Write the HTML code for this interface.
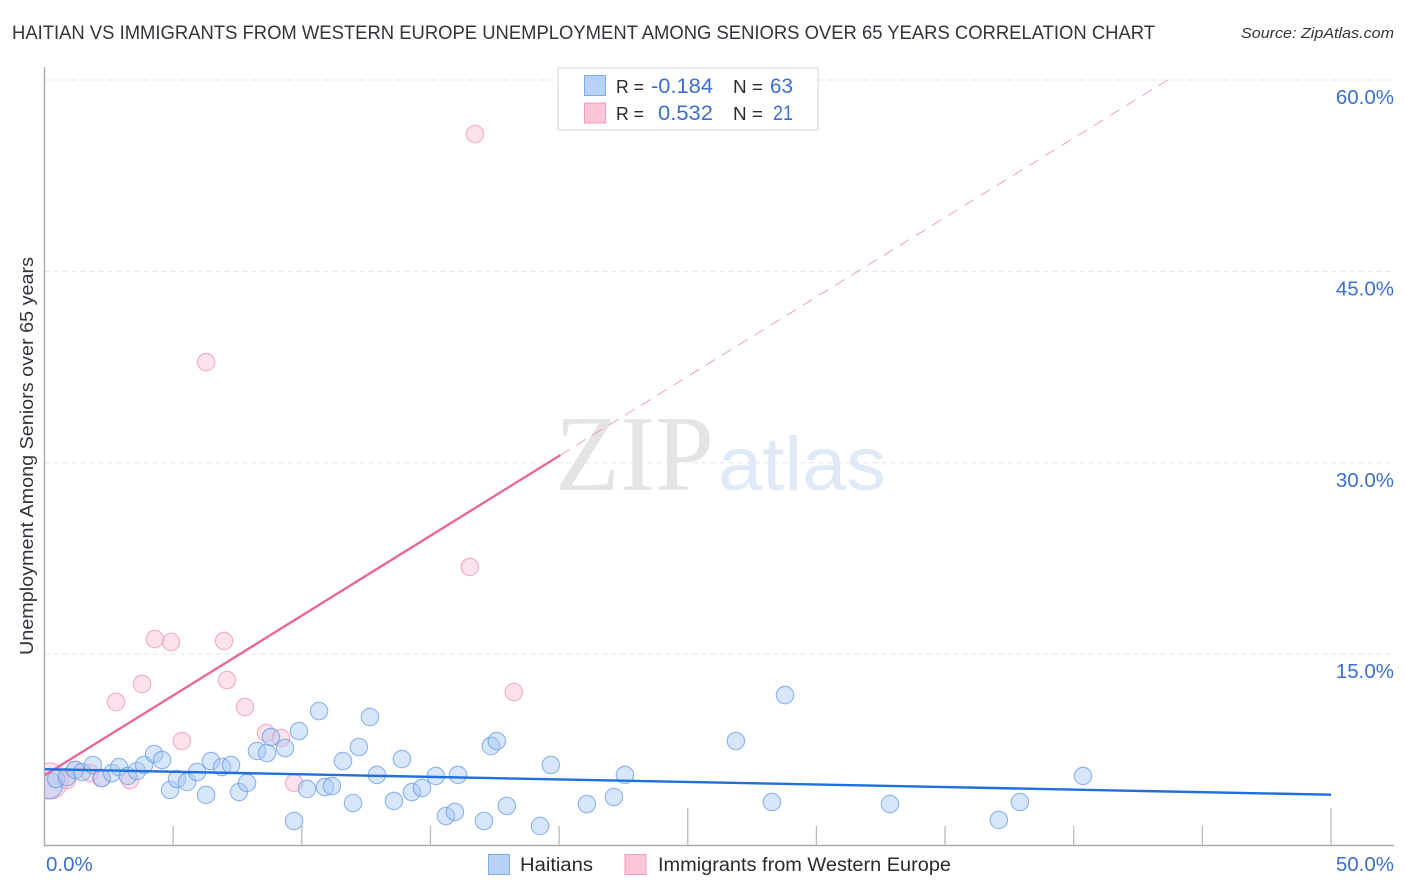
<!DOCTYPE html>
<html lang="en">
<head>
<meta charset="utf-8">
<title>Haitian vs Immigrants from Western Europe Unemployment Chart</title>
<style>
html,body{margin:0;padding:0;background:#fff;width:1406px;height:892px;overflow:hidden}
svg{display:block;font-family:"Liberation Sans",sans-serif}
</style>
</head>
<body>
<svg id="chart" xmlns="http://www.w3.org/2000/svg" width="1406" height="892" viewBox="0 0 1406 892">
  <defs>
    <clipPath id="plot-clip"><rect x="45" y="60" width="1349" height="785"/></clipPath>
  </defs>
  <rect x="0" y="0" width="1406" height="892" fill="#ffffff"/>
  <text x="12" y="39" font-size="19" fill="#33343b" textLength="1143" lengthAdjust="spacingAndGlyphs">HAITIAN VS IMMIGRANTS FROM WESTERN EUROPE UNEMPLOYMENT AMONG SENIORS OVER 65 YEARS CORRELATION CHART</text>
  <text x="1241" y="38" font-size="15" font-style="italic" fill="#33343b" textLength="153" lengthAdjust="spacingAndGlyphs">Source: ZipAtlas.com</text>

  <text x="555" y="490" font-family="'Liberation Serif',serif" font-size="108" fill="#e4e4e4" textLength="159" lengthAdjust="spacingAndGlyphs">ZIP</text>
  <text x="718" y="490" font-size="76" fill="#dfe9f8" textLength="168" lengthAdjust="spacingAndGlyphs">atlas</text>

  <g id="grid"></g>
  <g id="axes"></g>
  <g id="marks" clip-path="url(#plot-clip)"></g>
  <g id="labels"></g>

  <text transform="translate(33,456) rotate(-90)" text-anchor="middle" font-size="18" fill="#33343b" textLength="398" lengthAdjust="spacingAndGlyphs">Unemployment Among Seniors over 65 years</text>

  <g>
    <rect x="558" y="68" width="260" height="62" fill="#ffffff" fill-opacity="0.9" stroke="#dddddd" stroke-width="1.2"/>
    <rect x="584.5" y="75.5" width="21" height="20" fill="#b7d2f6" stroke="#7fabea" stroke-width="1"/>
    <rect x="584.5" y="103" width="21" height="20" fill="#fcc5d8" stroke="#f49ab8" stroke-width="1"/>
    <text x="616" y="93" font-size="18.5" fill="#2a2b30" textLength="28" lengthAdjust="spacingAndGlyphs">R =</text>
    <text x="651" y="93" font-size="21" fill="#3b6fd0" textLength="62" lengthAdjust="spacingAndGlyphs">-0.184</text>
    <text x="733" y="93" font-size="18.5" fill="#2a2b30" textLength="30" lengthAdjust="spacingAndGlyphs">N =</text>
    <text x="770" y="93" font-size="21" fill="#3b6fd0" textLength="23" lengthAdjust="spacingAndGlyphs">63</text>
    <text x="616" y="120" font-size="18.5" fill="#2a2b30" textLength="28" lengthAdjust="spacingAndGlyphs">R =</text>
    <text x="658" y="120" font-size="21" fill="#3b6fd0" textLength="55" lengthAdjust="spacingAndGlyphs">0.532</text>
    <text x="733" y="120" font-size="18.5" fill="#2a2b30" textLength="30" lengthAdjust="spacingAndGlyphs">N =</text>
    <text x="773" y="120" font-size="21" fill="#3b6fd0" textLength="20" lengthAdjust="spacingAndGlyphs">21</text>
  </g>

  <g>
    <rect x="488.5" y="854.5" width="21" height="20" fill="#b7d2f6" stroke="#7fabea" stroke-width="1"/>
    <text x="520" y="871" font-size="19" fill="#2a2b30" textLength="73" lengthAdjust="spacingAndGlyphs">Haitians</text>
    <rect x="625" y="854.5" width="21" height="20" fill="#fcc5d8" stroke="#f49ab8" stroke-width="1"/>
    <text x="658" y="871" font-size="19" fill="#2a2b30" textLength="293" lengthAdjust="spacingAndGlyphs">Immigrants from Western Europe</text>
  </g>
</svg>
<script>
const haitianX = [0.2,0.45,0.87,1.19,1.46,1.88,2.23,2.62,2.90,3.24,3.59,3.87,4.26,4.57,4.88,5.15,5.54,5.93,6.28,6.47,6.90,7.25,7.56,7.87,8.26,8.65,8.80,9.35,9.89,10.67,9.70,10.20,10.90,11.17,11.60,11.99,12.22,12.65,12.92,13.89,13.58,14.28,14.67,15.21,16.07,15.60,15.95,17.08,17.35,17.58,17.97,19.68,19.26,21.08,22.13,22.56,28.78,26.87,28.27,32.86,37.09,37.91,40.36];
const haitianY = [4.7,5.21,5.37,5.92,5.76,6.31,5.29,5.68,6.15,5.45,5.84,6.31,7.17,6.70,4.35,5.21,4.98,5.76,3.96,6.62,6.15,6.31,4.19,4.90,7.41,7.25,8.50,7.64,8.97,10.54,1.92,4.43,4.58,4.66,6.62,3.33,7.72,10.07,5.53,6.78,3.49,4.19,4.51,5.45,5.53,2.31,2.63,1.92,7.80,8.19,3.10,6.31,1.53,3.25,3.80,5.53,11.79,8.19,3.41,3.25,2.00,3.41,5.45];
const haitianWeight = [2.2,1,1,1,1,1,1,1,1,1,1,1,1,1,1,1,1,1,1,1,1,1,1,1,1,1,1,1,1,1,1,1,1,1,1,1,1,1,1,1,1,1,1,1,1,1,1,1,1,1,1,1,1,1,1,1,1,1,1,1,1,1,1];
const immigrantX = [16.73,6.28,16.53,4.29,4.92,6.98,3.79,7.09,2.78,7.79,18.24,5.34,8.61,9.19,9.70,0.21,0.87,1.19,1.77,2.20,3.32];
const immigrantY = [55.76,37.89,21.83,16.18,15.95,16.03,12.66,12.97,11.25,10.85,12.03,8.19,8.82,8.42,4.90,5.05,5.13,5.92,5.68,5.29,5.13];
const immigrantWeight = [1,1,1,1,1,1,1,1,1,1,1,1,1,1,1,4.3,1,1,1,1,1];
const haitianTrendX = [0,50];
const haitianTrendY = [5.98,3.98];
const immigrantSolidX = [0,20.05];
const immigrantSolidY = [5.5,30.6];
const immigrantDashX = [20.05,43.65];
const immigrantDashY = [30.6,60];
const yTicks = [15,30,45,60];
const yTickLabels = ['15.0%','30.0%','45.0%','60.0%'];
const xTicks = [5,10,15,20,25,30,35,40,45,50];
const xMajorTicks = [25,50];
const xEndValues = [0,50];
const xEndLabels = ['0.0%','50.0%'];

const NS = 'http://www.w3.org/2000/svg';
function xScale(v){ return 44.5 + v * (1331 - 44.5) / 50; }
function yScale(v){ return 845.5 - v * (845.5 - 80) / 60; }
function make(tag, attrs, parent){
  const el = document.createElementNS(NS, tag);
  for (const k in attrs) el.setAttribute(k, attrs[k]);
  parent.appendChild(el);
  return el;
}
const grid = document.getElementById('grid');
const axes = document.getElementById('axes');
const marks = document.getElementById('marks');
const labels = document.getElementById('labels');

yTicks.forEach(function(t, i){
  const line = make('line', {x1:44.5, x2:1394, y1:yScale(t), y2:yScale(t), stroke:'#e6e6e6', 'stroke-width':1, 'stroke-dasharray':'5 4'}, grid);
  
  
  const label = make('text', {x:1394, y:yScale(t) + 24, 'text-anchor':'end', 'font-size':20.5, fill:'#3b6fd0'}, labels);
  
  
  label.textContent = yTickLabels[i];
});

const yAxis = make('line', {x1:44.5, x2:44.5, y1:67, y2:846, stroke:'#aaaaaa', 'stroke-width':1.4}, axes);


const xAxis = make('line', {x1:44, x2:1394, y1:845.5, y2:845.5, stroke:'#aaaaaa', 'stroke-width':1.4}, axes);


xTicks.forEach(function(t){
  const top = xMajorTicks.indexOf(t) >= 0 ? 808 : 826;
  const tick = make('line', {x1:xScale(t), x2:xScale(t), y1:top, y2:845.5, stroke:'#bbbbbb', 'stroke-width':1.3}, axes);
  
  
});
xEndValues.forEach(function(v, i){
  const label = make('text', {x: i === 0 ? xScale(v) + 1.5 : 1394, y:871, 'text-anchor': i === 0 ? 'start' : 'end', 'font-size':20.5, fill:'#3b6fd0'}, labels);
  
  
  label.textContent = xEndLabels[i];
});

immigrantX.forEach(function(v, i){
  const dot = make('circle', {cx:xScale(v), cy:yScale(immigrantY[i]), r:8.7 * Math.sqrt(immigrantWeight[i]), fill:'#f9bcd0', 'fill-opacity':0.42, stroke:'#f08fae', 'stroke-opacity':0.65, 'stroke-width':1.2}, marks);
  
  
});
haitianX.forEach(function(v, i){
  const dot = make('circle', {cx:xScale(v), cy:yScale(haitianY[i]), r:8.7 * Math.sqrt(haitianWeight[i]), fill:'#a9c8f4', 'fill-opacity':0.45, stroke:'#5f96e4', 'stroke-opacity':0.65, 'stroke-width':1.2}, marks);
  
  
});

const dashLine = make('line', {x1:xScale(immigrantDashX[0]), y1:yScale(immigrantDashY[0]), x2:xScale(immigrantDashX[1]), y2:yScale(immigrantDashY[1]), stroke:'#e8709c', 'stroke-width':1, 'stroke-dasharray':'11 8', 'stroke-opacity':0.65}, marks);


const pinkLine = make('line', {x1:xScale(immigrantSolidX[0]), y1:yScale(immigrantSolidY[0]), x2:xScale(immigrantSolidX[1]), y2:yScale(immigrantSolidY[1]), stroke:'#e8689a', 'stroke-width':2.4}, marks);


const blueLine = make('line', {x1:xScale(haitianTrendX[0]), y1:yScale(haitianTrendY[0]), x2:xScale(haitianTrendX[1]), y2:yScale(haitianTrendY[1]), stroke:'#1f6fdc', 'stroke-width':2.4}, marks);


</script>
</body>
</html>
